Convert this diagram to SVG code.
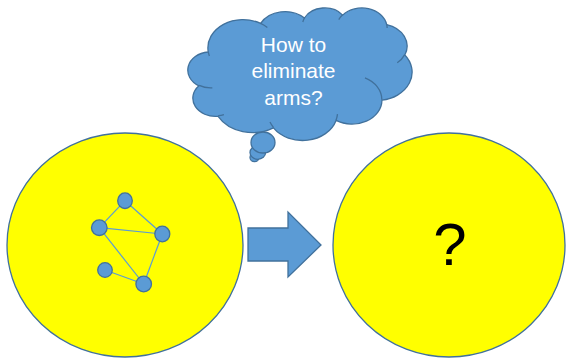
<svg xmlns="http://www.w3.org/2000/svg" width="567" height="358" viewBox="0 0 567 358">
<style>
.disc{fill:#FFFF00;stroke:#41719C;stroke-width:1.3}
.blue{fill:#5B9BD5;stroke:#41719C;stroke-width:1.3}
.cl{fill:#5B9BD5;stroke:#41719C;stroke-width:1.3;vector-effect:non-scaling-stroke}
.fold{fill:none;stroke:#41719C;stroke-width:1.3;vector-effect:non-scaling-stroke}
.edge{stroke:#5B9BD5;stroke-width:1.2;fill:none}
.ct{font-family:"Liberation Sans",Arial,sans-serif;font-size:21px;fill:#FFFFFF;text-anchor:middle}
.q{font-family:"Liberation Sans",Arial,sans-serif;font-size:60px;fill:#000000;text-anchor:middle}
</style>
<rect width="567" height="358" fill="#FFFFFF"/>
<g id="left-circle"><ellipse class="disc" cx="125" cy="245" rx="118" ry="112"/></g>
<g id="right-circle"><ellipse class="disc" cx="449" cy="245" rx="116" ry="112"/><text class="q" x="450" y="265">?</text></g>
<g id="thought-cloud">
<ellipse class="blue" cx="254.5" cy="157.5" rx="4.5" ry="4.2"/>
<ellipse class="blue" cx="257.8" cy="152.5" rx="7.8" ry="6.8"/>
<ellipse class="blue" cx="263" cy="142.5" rx="12" ry="10.5"/>
<g transform="translate(188,7.5) scale(0.0051852,0.0030671)">
<path class="cl" d="M3900,14370 A6753,9190 0 0 1 14005,5202.5 A5333,7267 0 0 1 22456.9,3433.7 A4365,5945 0 0 1 29834.4,2484.7 A4857,6595 0 0 1 38318.6,5581.5 A5333,7273 0 0 1 41819,15465.3 A6775,9220 0 0 1 37404.2,30206.8 A5785,7867 0 0 1 28555.5,36816.7 A6752,9215 0 0 1 16479.6,39265.8 A7720,10543 0 0 1 5801.9,35470.3 A4360,5918 0 0 1 2111.8,25546.9 A4345,5945 0 0 1 3862.5,14504 Z"/>
<path class="fold" d="M4693,26177 A4345,5945 0 0 1 2159.2,25379.3 M6928,34899 A4360,5918 0 0 1 5819.5,35280.5 M16478,39090 A6752,9215 0 0 1 15810.8,37351.3 M28827,34751 A6752,9215 0 0 1 28560.2,36660.8 M34129,22954 A5785,7867 0 0 1 37380.5,30089.8 M41798,15354 A5333,7273 0 0 1 40349.5,18030.6 M38324,5426 A4857,6595 0 0 1 38400.4,6689.5 M29078,3952 A4857,6595 0 0 1 29821,2337.9 M22141,4720 A4365,5945 0 0 1 22500.5,3328.9 M14000,5192 A6753,9190 0 0 1 15302.4,6543.4 M4127,15789 A6753,9190 0 0 1 3900,14369.7"/>
</g>
<text class="ct" x="293.5" y="51.7">How to</text>
<text class="ct" x="293.5" y="78.3">eliminate</text>
<text class="ct" x="293.5" y="105">arms?</text>
</g>
<g id="block-arrow"><polygon class="blue" points="248,228 288,228 288,212 321,245 288,277 288,261 248,261"/></g>
<g id="connectors">
<line class="edge" x1="125" y1="200.7" x2="99.3" y2="227.7"/>
<line class="edge" x1="125" y1="200.7" x2="162.3" y2="234"/>
<line class="edge" x1="99.3" y1="227.7" x2="162.3" y2="234"/>
<line class="edge" x1="99.3" y1="227.7" x2="143.7" y2="284"/>
<line class="edge" x1="162.3" y1="234" x2="143.7" y2="284"/>
<line class="edge" x1="105" y1="270" x2="143.7" y2="284"/>
</g>
<g id="node-a"><ellipse class="blue" cx="125" cy="200.7" rx="7.3" ry="7.8"/></g>
<g id="node-b"><ellipse class="blue" cx="99.3" cy="227.7" rx="7.8" ry="7.8"/></g>
<g id="node-c"><ellipse class="blue" cx="162.3" cy="234" rx="7.5" ry="7.8"/></g>
<g id="node-d"><ellipse class="blue" cx="105" cy="270" rx="7.3" ry="7.3"/></g>
<g id="node-e"><ellipse class="blue" cx="143.7" cy="284" rx="7.8" ry="7.8"/></g>
</svg>
